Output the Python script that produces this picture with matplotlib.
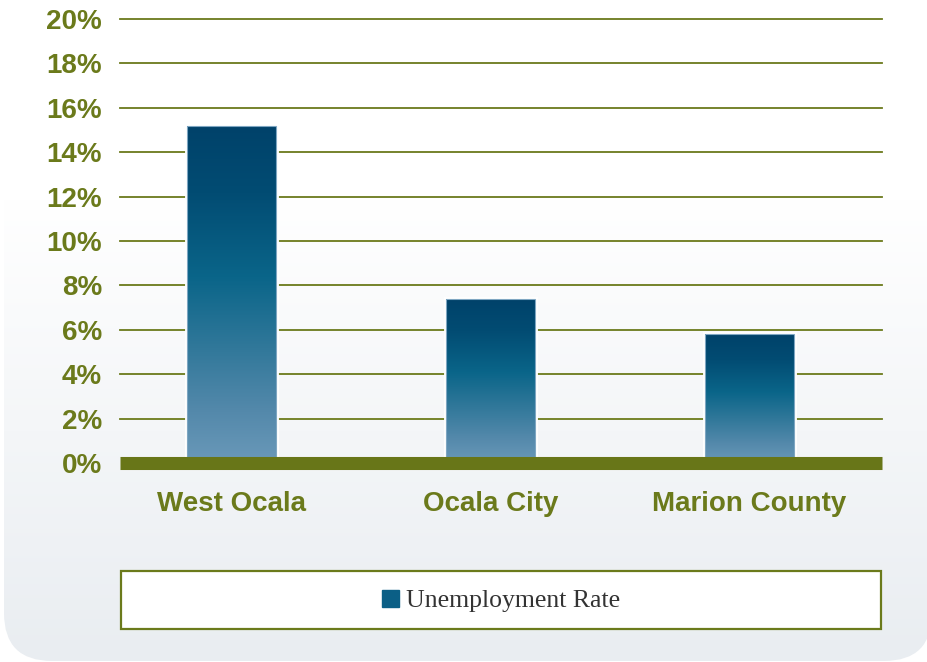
import matplotlib
matplotlib.use("Agg")
import matplotlib.pyplot as plt
import numpy as np
from matplotlib.colors import LinearSegmentedColormap
from matplotlib.patches import FancyBboxPatch, Rectangle, Patch

# ---- data ----
categories = ["West Ocala", "Ocala City", "Marion County"]
unemployment = [15.2, 7.4, 5.8]
series_name = "Unemployment Rate"
yticks = [0, 2, 4, 6, 8, 10, 12, 14, 16, 18, 20]
ytick_labels = [f"{v}%" for v in yticks]

OLIVE = "#6b7a1b"
W, H = 928, 662

fig = plt.figure(figsize=(W / 100, H / 100), dpi=100)
fig.patch.set_facecolor("white")

# ---- rounded background panel with vertical gradient ----
bg = fig.add_axes([0, 0, 1, 1], zorder=0)
bg.set_xlim(0, W)
bg.set_ylim(H, 0)
bg.axis("off")
ys = np.linspace(0, H, 300)
t = np.clip((ys - 200) / (H - 200), 0, 1)
top = np.array([1.0, 1.0, 1.0])
bot = np.array([0xe9, 0xed, 0xf1]) / 255
grad = top[None, :] * (1 - t[:, None]) + bot[None, :] * t[:, None]
img = np.repeat(grad[:, None, :], 2, axis=1)
panel = FancyBboxPatch((4, -200), 928, 861, boxstyle="round,pad=0,rounding_size=48",
                       facecolor="none", edgecolor="none")
bg.add_patch(panel)
im = bg.imshow(img, extent=(0, W, H, 0), aspect="auto", zorder=0)
im.set_clip_path(panel)

# ---- main axes ----
left, right, top_px, base_px = 120, 882, 19, 463
ax = fig.add_axes([left / W, (H - base_px) / H, (right - left) / W, (base_px - top_px) / H],
                  zorder=2)
ax.set_facecolor("none")
for s in ax.spines.values():
    s.set_visible(False)

x = np.arange(len(categories))
width = 0.344

for v in yticks[1:]:
    ax.axhline(v, color=OLIVE, lw=1.3, zorder=1, clip_on=False)

cmap = LinearSegmentedColormap.from_list(
    "bar", [(0.0, "#00426a"), (0.2, "#024c73"), (0.45, "#0a6589"),
            (0.65, "#2f7799"), (0.85, "#5489ab"), (1.0, "#6a99b9")])
gimg = np.linspace(0, 1, 256)[:, None]

bars = ax.bar(x, unemployment, width=width, facecolor="white", edgecolor="white",
              linewidth=3.5, zorder=2)
for b in bars:
    x0, w_, h_ = b.get_x(), b.get_width(), b.get_height()
    gi = ax.imshow(gimg, cmap=cmap, extent=(x0, x0 + w_, 0, h_), aspect="auto",
                   origin="upper", zorder=3)
    clip = Rectangle((x0, 0), w_, h_, transform=ax.transData)
    gi.set_clip_path(clip)
    ax.add_patch(Rectangle((x0, 0), w_, h_, facecolor="none", edgecolor="#7ea6c2",
                           linewidth=0.8, zorder=4))

ax.axhline(0, color="#687618", lw=9.4, solid_capstyle="butt", zorder=5, clip_on=False)

ax.set_xlim(-0.433, 2.514)
ax.set_ylim(0, 20)
ax.set_yticks(yticks)
ax.set_yticklabels(ytick_labels)
ax.set_xticks(x)
ax.set_xticklabels(categories)
ax.tick_params(axis="y", length=0, pad=13, labelsize=20, labelcolor=OLIVE)
ax.tick_params(axis="x", length=0, pad=20, labelsize=20, labelcolor=OLIVE)
for lbl in ax.get_xticklabels() + ax.get_yticklabels():
    lbl.set_fontfamily("Liberation Sans")
    lbl.set_fontweight("bold")

# ---- legend box ----
fig.patches.append(Rectangle((121 / W, (H - 629) / H), 760 / W, 58 / H,
                             transform=fig.transFigure, facecolor="white",
                             edgecolor=OLIVE, linewidth=1.6, zorder=1))
leg = ax.legend(handles=[Patch(facecolor="#0b5f86", edgecolor="#0b5f86")],
                labels=[series_name], loc="center",
                bbox_to_anchor=(501 / W, (H - 601) / H), bbox_transform=fig.transFigure,
                frameon=False, prop={"family": "Liberation Serif", "size": 18.5},
                handlelength=0.66, handleheight=0.66, handletextpad=0.3,
                borderpad=0, borderaxespad=0)
for txt in leg.get_texts():
    txt.set_color("#333333")

fig.savefig("out.png", dpi=100)
